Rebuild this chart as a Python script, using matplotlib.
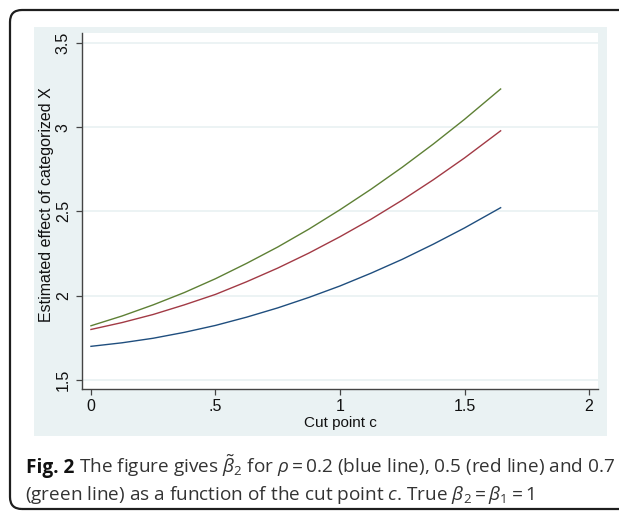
import numpy as np
import matplotlib
matplotlib.use("Agg")
import matplotlib.pyplot as plt
from matplotlib.patches import Rectangle, FancyBboxPatch
from matplotlib.transforms import IdentityTransform

# values
cut_point = [0.0, 0.125, 0.25, 0.375, 0.5, 0.625, 0.75, 0.875,
             1.0, 1.125, 1.25, 1.375, 1.5, 1.645]
rho_02 = [1.700, 1.721, 1.748, 1.783, 1.824, 1.873, 1.928, 1.990,
          2.058, 2.134, 2.216, 2.306, 2.402, 2.522]
rho_05 = [1.800, 1.841, 1.889, 1.946, 2.008, 2.083, 2.164, 2.253,
          2.350, 2.454, 2.567, 2.688, 2.817, 2.978]
rho_07 = [1.822, 1.880, 1.946, 2.019, 2.101, 2.192, 2.289, 2.395,
          2.510, 2.632, 2.762, 2.900, 3.046, 3.226]

x_ticks = [0, 0.5, 1, 1.5, 2]
x_ticklabels = ["0", ".5", "1", "1.5", "2"]
y_ticks = [1.5, 2, 2.5, 3, 3.5]
y_ticklabels = ["1.5", "2", "2.5", "3", "3.5"]

W, H = 619, 511
plt.rcParams["font.family"] = ["Liberation Sans", "DejaVu Sans"]
plt.rcParams["mathtext.fontset"] = "custom"
plt.rcParams["mathtext.rm"] = "Open Sans"
plt.rcParams["mathtext.it"] = "Open Sans:italic"
plt.rcParams["mathtext.bf"] = "Open Sans:bold"

fig = plt.figure(figsize=(W / 100, H / 100), dpi=100)
fig.patch.set_facecolor("white")

def px(x, y):
    # image pixel (top-left origin) -> figure fraction
    return x / W, 1 - y / H

# outer rounded frame (runs off the right edge)
frame = FancyBboxPatch((10, 2), 700, 499, boxstyle="round,pad=0,rounding_size=12",
                       transform=IdentityTransform(), fill=False,
                       edgecolor="#1e1e1e", linewidth=1.6, zorder=-2)
fig.patches.append(frame)

# Stata graph region
bg = "#EAF2F3"
x0, y0 = px(34, 436)
x1, y1 = px(607, 27)
fig.patches.append(Rectangle((x0, y0), x1 - x0, y1 - y0, transform=fig.transFigure,
                             facecolor=bg, edgecolor="none", zorder=-1))

ax_l, ax_b = px(82, 389)
ax_r, ax_t = px(598, 33)
ax = fig.add_axes([ax_l, ax_b, ax_r - ax_l, ax_t - ax_b])
ax.set_zorder(1)
ax.set_facecolor("white")

ax.plot(cut_point, rho_02, color="#1F4E7E", lw=1.0)
ax.plot(cut_point, rho_05, color="#A23A45", lw=1.0)
ax.plot(cut_point, rho_07, color="#5E8035", lw=1.0)

ax.set_xlim(-0.036, 2.036)
ax.set_ylim(1.447, 3.558)
ax.set_xticks(x_ticks)
ax.set_xticklabels(x_ticklabels)
ax.set_yticks(y_ticks)
ax.set_yticklabels(y_ticklabels, rotation=90, va="center")
ax.grid(axis="y", color=bg, lw=1.3)
ax.set_axisbelow(True)

for s in ("top", "right"):
    ax.spines[s].set_visible(False)
for s in ("left", "bottom"):
    ax.spines[s].set_color("#444444")
    ax.spines[s].set_linewidth(1.0)
ax.tick_params(length=4.5, width=0.9, color="#444444", labelsize=11.5,
               labelcolor="#111111", pad=3.5)
ax.tick_params(axis="x", pad=3)

xl, yl = px(340, 423)
fig.text(xl, yl, "Cut point c", ha="center", va="center", fontsize=11, color="#111111")
xl, yl = px(47, 205)
fig.text(xl, yl, "Estimated effect of categorized X", ha="center", va="center",
         rotation=90, fontsize=11.5, color="#111111")

# caption
cap_fs = 13.7
cx, cy = px(26, 473)
t1 = fig.text(cx, cy, "Fig. 2", fontsize=cap_fs, fontweight="bold", family="Open Sans",
              color="#111111", va="baseline")
fig.canvas.draw()
ext = t1.get_window_extent(fig.canvas.get_renderer())
fig.text((ext.x1 + 5) / W, cy,
         r"The figure gives $\tilde{\beta}_2$ for $\rho = 0.2$ (blue line), 0.5 (red line) and 0.7",
         fontsize=cap_fs, family="Open Sans", color="#333333", va="baseline")
cx2, cy2 = px(25, 500)
fig.text(cx2, cy2, r"(green line) as a function of the cut point $c$. True $\beta_2 = \beta_1 = 1$",
         fontsize=cap_fs, family="Open Sans", color="#333333", va="baseline")

fig.savefig("out.png", dpi=100)
plt.close(fig)
